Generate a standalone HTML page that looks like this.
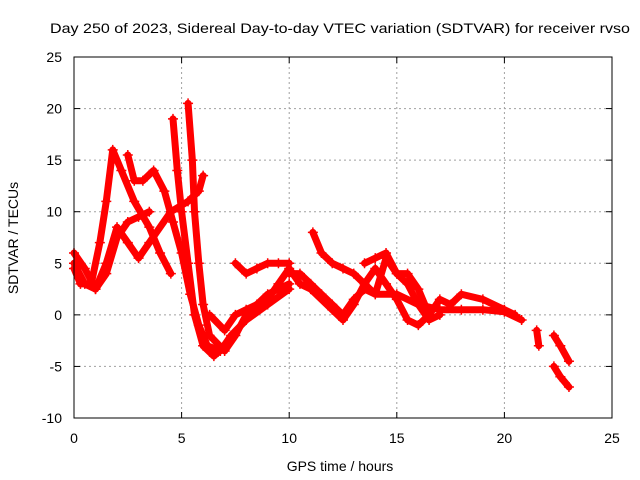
<!DOCTYPE html>
<html><head><meta charset="utf-8"><style>
body{margin:0;background:#fff}
svg{display:block;font-family:"Liberation Sans",sans-serif}
</style></head><body>
<svg id="chart" width="640" height="480">
<rect x="0" y="0" width="640" height="480" fill="#fff"/>
<text x="50" y="33" font-size="14" textLength="580" lengthAdjust="spacingAndGlyphs">Day 250 of 2023, Sidereal Day-to-day VTEC variation (SDTVAR) for receiver rvso</text>
<text x="340" y="471" font-size="14" text-anchor="middle">GPS time / hours</text>
<text transform="translate(18,238) rotate(-90)" font-size="14" text-anchor="middle">SDTVAR / TECUs</text>
<g id="grid"></g><g id="ticks"></g><g id="marks"></g>
<rect x="74" y="57" width="538" height="361" fill="none" stroke="#000"/>
</svg>
<script>
const xTicks=[0,5,10,15,20,25];
const yTicks=[-10,-5,0,5,10,15,20,25];
const track1=[[0,4.5],[0.3,3],[0.8,3],[1.2,7],[1.5,11],[1.8,16],[2.2,14],[2.8,11],[3.5,8.5],[4,6],[4.5,4]];
const track2=[[2.5,15.5],[2.8,13],[3.2,13],[3.7,14],[4.2,12],[4.6,9],[5,6],[5.4,2],[5.8,-1],[6.2,-3],[6.8,-3.5],[7.3,-2],[8,-0.5],[9,1],[10,2.5]];
const track3=[[0,6],[0.5,4.5],[1,2.5],[1.5,4],[2,7.5],[2.5,9],[3,9.5],[3.5,10]];
const track4=[[0,5],[0.5,3],[1,2.5],[1.5,5],[2,8.5],[2.5,7],[3,5.5],[3.5,7],[4.5,10],[5.3,11],[5.8,12],[6,13.5]];
const track5=[[4.6,19],[4.8,14],[5,10],[5.3,5],[5.6,0],[6,-3],[6.5,-4],[7,-3]];
const track6=[[5.3,20.5],[5.5,15],[5.6,10],[5.8,5],[6,1],[6.3,-2],[7,-3.5],[7.5,-2],[8,0],[8.5,1],[9,2],[9.5,2.5],[10,3]];
const track7=[[6.3,0],[7,-1.5],[7.5,0],[8,0.5],[9,1.5],[9.5,3],[10,4.5],[10.5,3],[11,2.5],[12,0.5],[12.5,-0.5],[13,1],[13.5,3],[14,4.5],[14.5,3],[15,1.5],[15.5,-0.5],[16,-1],[16.5,0],[17,1.5],[17.5,1],[18,2],[19,1.5],[20,0.5],[20.5,0]];
const track8=[[7.5,5],[8,4],[8.5,4.5],[9,5],[9.5,5],[10,5]];
const track9=[[10,4],[10.5,4],[11,3],[11.5,2],[12,1],[12.5,0],[13,1.5],[13.5,2.5],[14,2],[15,2],[16,1],[17,0.5],[18,0.5],[19,0.5],[20,0.3],[20.8,-0.5]];
const track10=[[11.1,8],[11.5,6],[12,5],[12.5,4.5],[13,4],[13.5,3],[14,2],[14.5,5.5],[15,4],[15.5,3],[16,1],[16.5,-0.5],[17,0]];
const track11=[[13.5,5],[14,5.5],[14.5,6],[15,4],[15.5,4],[16,2.5],[16.5,0]];
const track12=[[21.5,-1.5],[21.6,-3]];
const track13=[[22.3,-2],[22.6,-3],[23,-4.5]];
const track14=[[22.3,-5],[22.6,-6],[23,-7]];
const tracks=[track1,track2,track3,track4,track5,track6,track7,track8,track9,track10,track11,track12,track13,track14];
const X0=74,X1=612,Y0=418,Y1=57;
const xs=v=>X0+(v-0)/25*(X1-X0);
const ys=v=>Y0-(v+10)/35*(Y0-Y1);
const NS="http://www.w3.org/2000/svg";
const grid=document.getElementById('grid'),ticks=document.getElementById('ticks'),marks=document.getElementById('marks');
function mk(t,a,p){const e=document.createElementNS(NS,t);for(const k in a)e.setAttribute(k,a[k]);p.appendChild(e);return e;}
xTicks.forEach(v=>{
  const x=xs(v);
  if(v>0&&v<25){const g=mk('line',{x1:x,x2:x,y1:Y1,y2:Y0,stroke:'#a0a0a0','stroke-dasharray':'2,3'},grid);
  
  }
  const t=mk('text',{x:x,y:Y0+25,'font-size':14,'text-anchor':'middle'},ticks);t.textContent=v;
  
  
  mk('line',{x1:x,x2:x,y1:Y0,y2:Y0-6,stroke:'#000'},ticks);mk('line',{x1:x,x2:x,y1:Y1,y2:Y1+6,stroke:'#000'},ticks);
});
yTicks.forEach(v=>{
  const y=ys(v);
  if(v>-10&&v<25){const g=mk('line',{x1:X0,x2:X1,y1:y,y2:y,stroke:'#a0a0a0','stroke-dasharray':'2,3'},grid);
  
  }
  const t=mk('text',{x:X0-12,y:y+5,'font-size':14,'text-anchor':'end'},ticks);t.textContent=v;
  
  
  mk('line',{x1:X0,x2:X0+6,y1:y,y2:y,stroke:'#000'},ticks);mk('line',{x1:X1,x2:X1-6,y1:y,y2:y,stroke:'#000'},ticks);
});
tracks.forEach((tr,i)=>{
  const pl=mk('polyline',{points:tr.map(p=>xs(p[0])+','+ys(p[1])).join(' '),fill:'none',stroke:'#f00','stroke-width':7,'stroke-linejoin':'round','stroke-linecap':'round'},marks);
  
  
  tr.forEach(p=>{
    const x=xs(p[0]),y=ys(p[1]);
    const m=mk('path',{d:`M${x-5},${y}H${x+5}M${x},${y-5}V${y+5}`,stroke:'#f00','stroke-width':1.5},marks);
    
    
  });
});
</script>
</body></html>
